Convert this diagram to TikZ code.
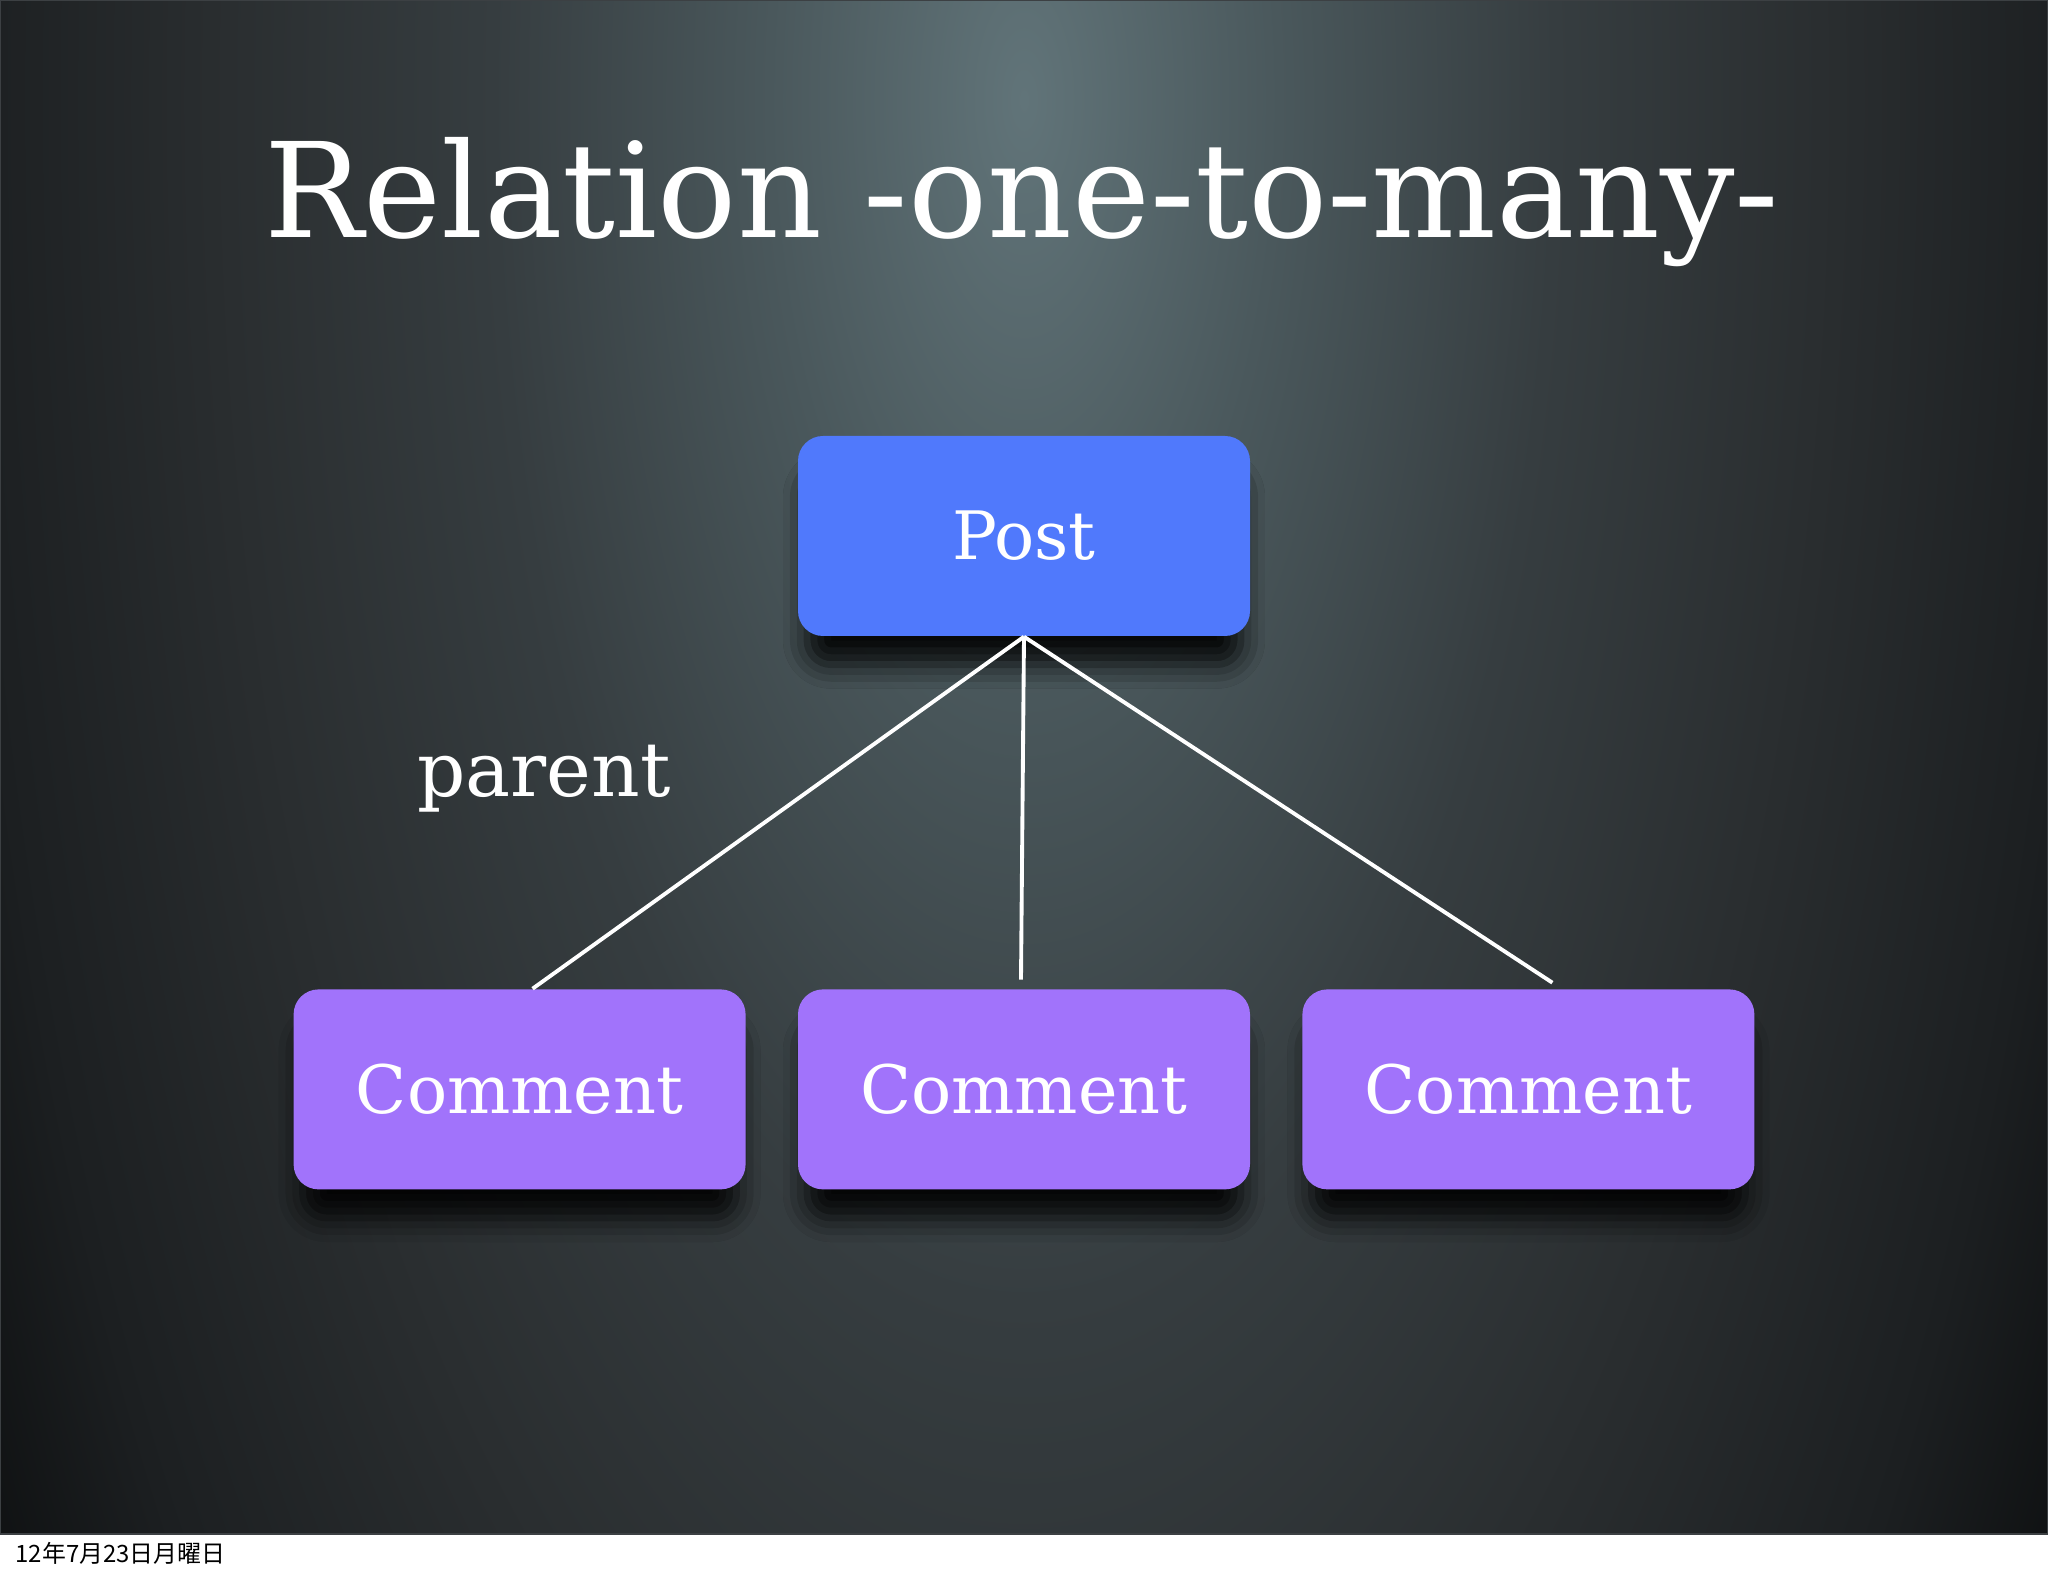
\documentclass[tikz,border=0pt]{standalone}
\usepackage{xcolor}
\usepackage{fontspec}
\setmainfont{DejaVu Serif}
\newfontfamily\dateFont{Noto Sans CJK JP}
\usepackage{tikz}
\usetikzlibrary{positioning,calc,shadows.blur}
\definecolor{postBlue}{HTML}{5079FC}
\definecolor{commentPurple}{HTML}{A173FB}
\definecolor{spotTeal}{HTML}{617479}
\definecolor{spotGrey}{HTML}{4A585C}
\definecolor{midGrey}{HTML}{363D40}
\definecolor{lowGrey}{HTML}{2A2E30}
\definecolor{slateDark}{HTML}{1C1F21}
\definecolor{slateDeep}{HTML}{0E1011}
\definecolor{slideEdge}{HTML}{3C4043}
\pgfdeclareradialshading{slideSpot}{\pgfpoint{0bp}{0bp}}{color(0bp)=(spotTeal); color(6bp)=(spotGrey); color(12.5bp)=(midGrey); color(18.75bp)=(lowGrey); color(25bp)=(slateDark); color(29bp)=(slateDeep); color(50bp)=(slateDeep)}
\tikzset{
  postBox/.style={
    rectangle,
    rounded corners=0.25cm,
    fill=postBlue,
    text=white,
    minimum width=4.52cm,
    minimum height=2cm,
    inner sep=0pt,
    font=\fontsize{19}{23}\selectfont,
    blur shadow={shadow xshift=0pt, shadow yshift=-0.34cm, shadow scale=0.96, shadow blur radius=0.25cm, shadow opacity=90}
  },
  commentBox/.style={
    postBox,
    fill=commentPurple
  },
  linkLine/.style={
    draw=white,
    line width=1.1pt
  },
  titleText/.style={
    text=white,
    anchor=base,
    inner sep=0pt,
    font=\fontsize{37.5}{45}\selectfont
  },
  roleText/.style={
    text=white,
    anchor=base,
    inner sep=0pt,
    font=\fontsize{21.5}{26}\selectfont
  },
  dateText/.style={
    text=black,
    anchor=base west,
    inner sep=0pt,
    font=\dateFont\fontsize{6.8}{8}\selectfont
  }
}

\begin{document}
\begin{tikzpicture}[node distance=3.52cm]
        \useasboundingbox (0,0) rectangle (20.48,15.76);
        \fill[white] (0,0) rectangle (20.48,15.76);
        \begin{scope}
          \clip (0,0.42) rectangle (20.48,15.76);
          \fill[slateDeep] (0,0.42) rectangle (20.48,15.76);
          \begin{scope}[transform canvas={yscale=2.267}]
            \shade[shading=slideSpot] (-0.37,-4.10) rectangle (20.85,17.12);
          \end{scope}
        \end{scope}
        \draw[slideEdge, line width=0.6pt] (0,0.42) rectangle (20.48,15.76);

        \node[titleText] (title) at (10.22,13.38) {Relation -one-to-many-};
        \node[postBox] (post) at (10.24,10.40) {Post};
        \node[commentBox, below=3.52cm of post] (comment2) {Comment};
        \node[commentBox, left=0.51cm of comment2] (comment1) {Comment};
        \node[commentBox, right=0.51cm of comment2] (comment3) {Comment};
        \node[roleText] (parent) at (5.44,7.79) {parent};
        \node[dateText] (date) at (0.15,0.13) {12年7月23日月曜日};

        \draw[linkLine] (post.south) -- ([xshift=1.3mm]comment1.north);
        \draw[linkLine] (post.south) -- ([xshift=-0.3mm,yshift=0.9mm]comment2.north);
        \draw[linkLine] (post.south) -- ([xshift=2.4mm,yshift=0.6mm]comment3.north);
    \end{tikzpicture}
\end{document}
